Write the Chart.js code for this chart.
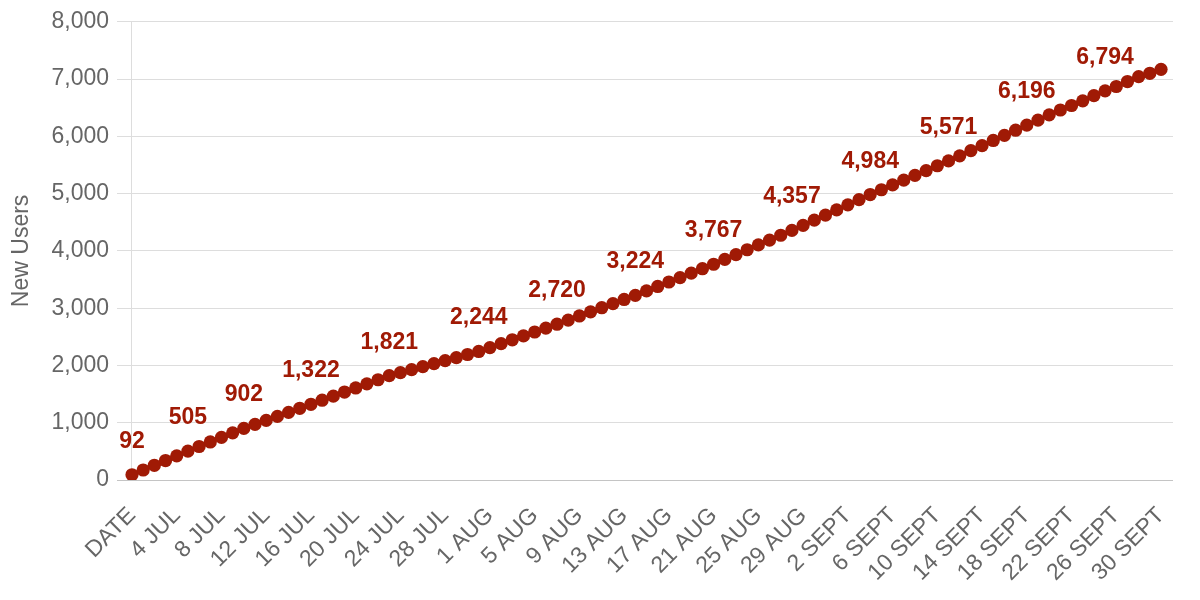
<!doctype html>
<html lang="en">
<head>
  <meta charset="utf-8">
  <title>New Users</title>
  <style>
    * {
      margin: 0;
      padding: 0;
    }
    body {
      background: white;
    }
    .chartBox {
      width: 1200px;
      height: 600px;
      position: relative;
    }
  </style>
</head>
<body>
  <div class="chartBox">
    <canvas id="myChart"></canvas>
  </div>

  <script src="https://cdn.jsdelivr.net/npm/chart.js"></script>
  <script>
    // tick labels on x-axis (one every 4 rows)
    const xLabels = ['DATE', '4 JUL', '8 JUL', '12 JUL', '16 JUL', '20 JUL', '24 JUL', '28 JUL',
      '1 AUG', '5 AUG', '9 AUG', '13 AUG', '17 AUG', '21 AUG', '25 AUG', '29 AUG',
      '2 SEPT', '6 SEPT', '10 SEPT', '14 SEPT', '18 SEPT', '22 SEPT', '26 SEPT', '30 SEPT'];

    // cumulative new users, one value per row
    const newUsers = [
      92, 175, 257, 340, 422, 505, 585, 664, 744, 823,
      902, 972, 1042, 1112, 1182, 1252, 1322, 1393, 1465, 1536,
      1607, 1679, 1750, 1821, 1874, 1927, 1980, 2033, 2085, 2138,
      2191, 2244, 2312, 2380, 2448, 2516, 2584, 2652, 2720, 2792,
      2864, 2936, 3008, 3080, 3152, 3224, 3302, 3379, 3457, 3534,
      3612, 3689, 3767, 3851, 3936, 4020, 4104, 4189, 4273, 4357,
      4447, 4536, 4626, 4715, 4805, 4894, 4984, 5068, 5152, 5236,
      5320, 5403, 5487, 5571, 5660, 5750, 5839, 5928, 6018, 6107,
      6196, 6282, 6375, 6460, 6539, 6620, 6712, 6794, 6870, 6957,
      7043, 7101, 7170
    ];

    // rows that carry a value annotation
    const annotatedRows = [0, 5, 10, 16, 23, 31, 38, 45, 52, 59, 66, 73, 80, 87];

    const yTicks = [0, 1000, 2000, 3000, 4000, 5000, 6000, 7000, 8000];

    const red = '#a01a05';
    const grey = '#666666';
    const fontName = "'Liberation Sans', Arial, sans-serif";

    // value labels above the annotated points
    const valueLabels = {
      id: 'valueLabels',
      afterDatasetsDraw(chart) {
        const meta = chart.getDatasetMeta(0);
        const ctx = chart.ctx;
        ctx.save();
        ctx.fillStyle = red;
        ctx.font = 'bold 23px ' + fontName;
        ctx.textAlign = 'center';
        ctx.textBaseline = 'alphabetic';
        annotatedRows.forEach(i => {
          const pt = meta.data[i];
          ctx.fillText(newUsers[i].toLocaleString('en-US'), pt.x, pt.y - 27);
        });
        ctx.restore();
      }
    };

    const data = {
      datasets: [{
        label: 'New Users',
        data: newUsers.map((v, i) => ({ x: i, y: v })),
        borderColor: red,
        backgroundColor: red,
        borderWidth: 4,
        pointRadius: 6.6,
        pointBorderWidth: 0,
        pointBackgroundColor: red,
        tension: 0
      }]
    };

    const config = {
      type: 'line',
      data,
      options: {
        responsive: true,
        maintainAspectRatio: false,
        animation: false,
        layout: {
          padding: { top: 20, right: 27, left: 0, bottom: 0 }
        },
        scales: {
          x: {
            type: 'linear',
            min: -1.34,
            max: 93.07,
            afterBuildTicks: (scale) => {
              scale.ticks = xLabels.map((l, k) => ({ value: k * 4 }));
            },
            afterFit: (scale) => {
              scale.height = 120;
              scale.paddingLeft = 0;
              scale.paddingRight = 0;
            },
            ticks: {
              autoSkip: false,
              maxRotation: 45,
              minRotation: 45,
              padding: 22,
              color: grey,
              font: { family: fontName, size: 23 },
              callback: (v) => xLabels[Math.round(v / 4)]
            },
            grid: {
              drawTicks: false,
              color: (ctx) => (ctx.tick && ctx.tick.value === 0) ? '#dddddd' : 'rgba(0,0,0,0)'
            },
            border: { display: false }
          },
          y: {
            min: 0,
            max: 8000,
            afterBuildTicks: (scale) => {
              scale.ticks = yTicks.map(v => ({ value: v }));
            },
            afterFit: (scale) => { scale.width = 117; },
            ticks: {
              padding: 8,
              color: grey,
              font: { family: fontName, size: 23 },
              callback: (v) => v.toLocaleString('en-US')
            },
            grid: {
              drawTicks: false,
              color: (ctx) => (ctx.tick && ctx.tick.value === 0) ? '#c4c4c4' : '#dddddd'
            },
            border: { display: false },
            title: {
              display: true,
              text: 'New Users',
              color: grey,
              font: { family: fontName, size: 23 },
              padding: { top: 8, bottom: 0 }
            }
          }
        },
        plugins: {
          legend: { display: false },
          tooltip: { enabled: false }
        }
      },
      plugins: [valueLabels]
    };

    const myChart = new Chart(document.getElementById('myChart'), config);
  </script>
</body>
</html>
